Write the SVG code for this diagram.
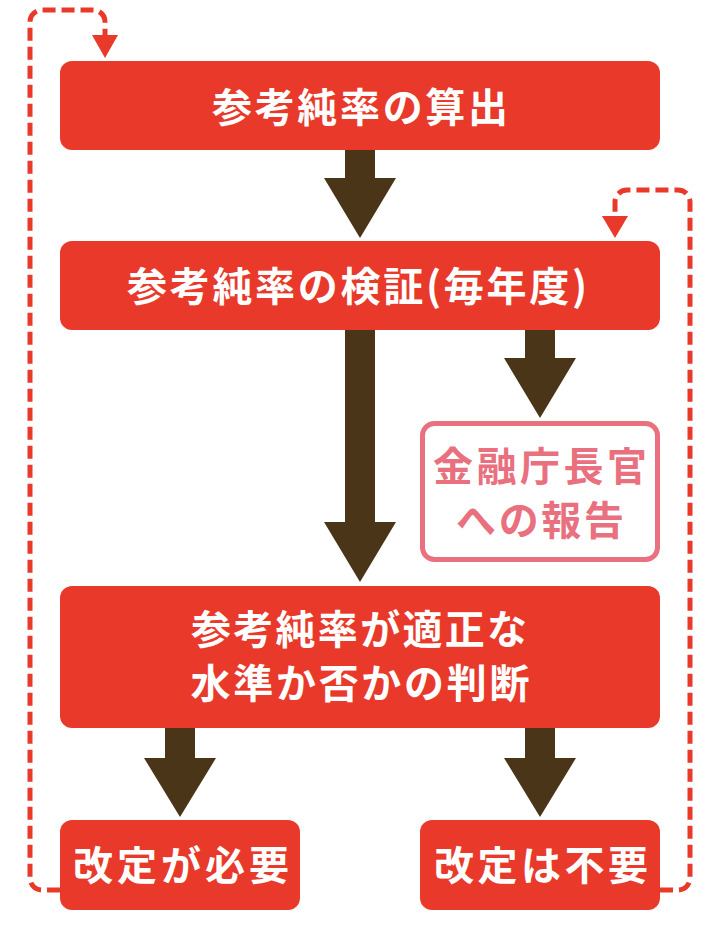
<svg xmlns="http://www.w3.org/2000/svg" width="720" height="934" viewBox="0 0 720 934">
<style>
.box{fill:#E8392A;}
.t{font-family:"Noto Sans CJK JP","Noto Sans",sans-serif;font-weight:700;font-size:40px;fill:#FFFFFF;text-anchor:middle;}
.tp{fill:#E9707E;}
.arr{fill:#4A3519;}
.dash{fill:none;stroke:#E8392A;stroke-width:5;stroke-dasharray:13 6;}
.head{fill:#E8392A;}
</style>
<g id="connectors">
<polygon class="arr" points="345,150 375,150 375,178 396,178 360,238 324,178 345,178"/>
<polygon class="arr" points="345,330 375,330 375,522 396,522 360,582 324,522 345,522"/>
<polygon class="arr" points="525,330 555,330 555,358 576,358 540,418 504,358 525,358"/>
<polygon class="arr" points="165,728 195,728 195,758 216,758 180,817 144,758 165,758"/>
<polygon class="arr" points="525,728 555,728 555,758 576,758 540,817 504,758 525,758"/>
<path class="dash" d="M60,890 H42 A12,12 0 0 1 30,878 V22 A12,12 0 0 1 42,10 H93 A12,12 0 0 1 105,22 V36"/>
<polygon class="head" points="92,35 118,35 105,58"/>
<path class="dash" d="M660,890 H678 A12,12 0 0 0 690,878 V202 A12,12 0 0 0 678,190 H627 A12,12 0 0 0 615,202 V217"/>
<polygon class="head" points="602,216 628,216 615,238"/>
</g>
<g id="node-calc">
<rect class="box" x="60" y="61" width="600" height="89" rx="12"/>
<text class="t" x="360" y="122" textLength="296" lengthAdjust="spacing">参考純率の算出</text>
</g>
<g id="node-verify">
<rect class="box" x="60" y="241" width="600" height="89" rx="12"/>
<text class="t" x="357" y="301" textLength="460" lengthAdjust="spacing">参考純率の検証(毎年度)</text>
</g>
<g id="node-report">
<rect x="422.5" y="423.5" width="235" height="136" rx="12" fill="#FFFFFF" stroke="#E9707E" stroke-width="5"/>
<text class="t tp" x="540" y="481" textLength="214" lengthAdjust="spacing">金融庁長官</text>
<text class="t tp" x="540" y="535" textLength="168" lengthAdjust="spacing">への報告</text>
</g>
<g id="node-judge">
<rect class="box" x="60" y="586" width="600" height="142" rx="12"/>
<text class="t" x="359" y="644" textLength="336" lengthAdjust="spacing">参考純率が適正な</text>
<text class="t" x="360" y="698" textLength="339" lengthAdjust="spacing">水準か否かの判断</text>
</g>
<g id="node-need">
<rect class="box" x="60" y="820" width="240" height="90" rx="12"/>
<text class="t" x="181" y="880" textLength="216" lengthAdjust="spacing">改定が必要</text>
</g>
<g id="node-noneed">
<rect class="box" x="420" y="820" width="240" height="90" rx="12"/>
<text class="t" x="541" y="880" textLength="214" lengthAdjust="spacing">改定は不要</text>
</g>
</svg>
